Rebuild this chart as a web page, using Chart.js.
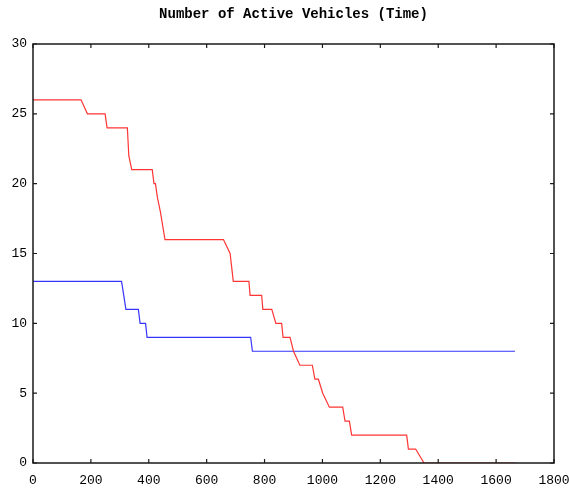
<!DOCTYPE html>
<html>
<head>
<meta charset="utf-8">
<script src="https://cdn.jsdelivr.net/npm/chart.js@4"></script>
<style>
	html, body { margin: 0; padding: 0; background: #fff; }
	#wrap { width: 569px; height: 490px; }
</style>
</head>
<body>
<div id="wrap"><canvas id="vehicles-chart"></canvas></div>
<script>
// time (x) and active vehicle count (y)
const redTime = [0, 166, 188, 249, 256, 326, 331, 341, 412, 418, 423, 430, 440, 448, 456, 658, 681, 692, 746, 750, 790, 794, 825, 839, 859, 864, 888, 900, 922, 965, 974, 986, 1001, 1024, 1070, 1078, 1093, 1101, 1291, 1297, 1322, 1351, 1668];
const redCount = [26, 26, 25, 25, 24, 24, 22, 21, 21, 20, 20, 19, 18, 17, 16, 16, 15, 13, 13, 12, 12, 11, 11, 10, 10, 9, 9, 8, 7, 7, 6, 6, 5, 4, 4, 3, 3, 2, 2, 1, 1, 0, 0];

const blueTime = [0, 306, 321, 364, 370, 389, 394, 752, 758, 1665];
const blueCount = [13, 13, 11, 11, 10, 10, 9, 9, 8, 8];

// the two green corner marks
const cornerTime = [0, 1800];
const cornerCount = [0, 30];

const xTicks = [0, 200, 400, 600, 800, 1000, 1200, 1400, 1600, 1800];
const yTicks = [0, 5, 10, 15, 20, 25, 30];

function toPoints(xs, ys) {
	return xs.map((x, i) => ({ x: x, y: ys[i] }));
}

const monoFont = "'Liberation Mono', 'DejaVu Sans Mono', monospace";

// frame round the plot plus inward ticks on all four sides
const frameTicks = {
	id: 'frameTicks',
	afterDraw(chart) {
		const ctx = chart.ctx;
		const a = chart.chartArea;
		const xs = chart.scales.x;
		const ys = chart.scales.y;
		const len = 4;

		ctx.save();
		ctx.strokeStyle = '#1a1a1a';
		ctx.lineWidth = 1.5;
		ctx.strokeRect(a.left, a.top, a.right - a.left, a.bottom - a.top);

		ctx.lineWidth = 1.2;
		ctx.beginPath();
		xTicks.forEach((v) => {
			const px = xs.getPixelForValue(v);
			ctx.moveTo(px, a.bottom);
			ctx.lineTo(px, a.bottom - len);
			ctx.moveTo(px, a.top);
			ctx.lineTo(px, a.top + len);
		});
		yTicks.forEach((v) => {
			const py = ys.getPixelForValue(v);
			ctx.moveTo(a.left, py);
			ctx.lineTo(a.left + len, py);
			ctx.moveTo(a.right, py);
			ctx.lineTo(a.right - len, py);
		});
		ctx.stroke();
		ctx.restore();
	}
};

new Chart(document.getElementById('vehicles-chart'), {
	type: 'scatter',
	data: {
		datasets: [
			{
				data: toPoints(redTime, redCount),
				showLine: true,
				borderColor: '#ff3535',
				borderWidth: 1.2,
				pointRadius: 0,
				tension: 0
			},
			{
				data: toPoints(blueTime, blueCount),
				showLine: true,
				borderColor: '#3535ff',
				borderWidth: 1.2,
				pointRadius: 0,
				tension: 0
			},
			{
				data: toPoints(cornerTime, cornerCount),
				showLine: false,
				pointRadius: 1.5,
				pointBorderWidth: 0,
				backgroundColor: '#00d000'
			}
		]
	},
	options: {
		responsive: true,
		maintainAspectRatio: false,
		animation: false,
		events: [],
		layout: {
			padding: { left: 0, right: 15, top: 0, bottom: 0 }
		},
		scales: {
			x: {
				type: 'linear',
				min: 0,
				max: 1800,
				grid: { display: false, drawTicks: false },
				border: { display: false },
				afterBuildTicks: (scale) => {
					scale.ticks = xTicks.map((v) => ({ value: v }));
				},
				afterFit: (scale) => {
					scale.height = 27;
					scale.paddingLeft = 0;
					scale.paddingRight = 0;
				},
				ticks: {
					padding: 10,
					color: '#000',
					maxRotation: 0,
					autoSkip: false,
					font: { family: monoFont, size: 13 },
					callback: (v) => String(v)
				}
			},
			y: {
				type: 'linear',
				min: 0,
				max: 30,
				grid: { display: false, drawTicks: false },
				border: { display: false },
				afterBuildTicks: (scale) => {
					scale.ticks = yTicks.map((v) => ({ value: v }));
				},
				afterFit: (scale) => {
					scale.width = 33;
					scale.paddingTop = 0;
					scale.paddingBottom = 0;
				},
				ticks: {
					padding: 6,
					color: '#000',
					font: { family: monoFont, size: 13 },
					callback: (v) => String(v)
				}
			}
		},
		plugins: {
			legend: { display: false },
			tooltip: { enabled: false },
			title: {
				display: true,
				fullSize: false,
				text: 'Number of Active Vehicles (Time)',
				color: '#000',
				font: { family: monoFont, size: 14, weight: 'bold' },
				padding: { top: 6, bottom: 21.2 }
			}
		}
	},
	plugins: [frameTicks]
});
</script>
</body>
</html>
